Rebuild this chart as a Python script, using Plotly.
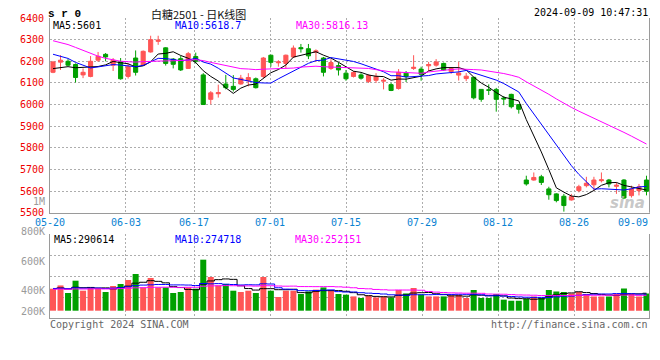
import plotly.graph_objects as go

# ---------------- data ----------------
dates = ["05-20","05-21","05-22","05-23","05-24","05-27","05-28","05-29","05-30","05-31",
         "06-03","06-04","06-05","06-06","06-07","06-11","06-12","06-13","06-14",
         "06-17","06-18","06-19","06-20","06-21","06-24","06-25","06-26","06-27","06-28",
         "07-01","07-02","07-03","07-04","07-05","07-08","07-09","07-10","07-11","07-12",
         "07-15","07-16","07-17","07-18","07-19","07-22","07-23","07-24","07-25","07-26",
         "07-29","07-30","07-31","08-01","08-02","08-05","08-06","08-07","08-08","08-09",
         "08-12","08-13","08-14","08-15","08-16","08-19","08-20","08-21","08-22","08-23",
         "08-26","08-27","08-28","08-29","08-30","09-02","09-03","09-04","09-05","09-06",
         "09-09"]

opens = [6149,6196,6200,6185,6137,6130,6205,6232,6182,6197,
         6130,6215,6182,6243,6292,6262,6210,6212,6167,6222,
         6137,6024,6050,6095,6084,6095,6110,6119,6130,6228,
         6193,6190,6220,6263,6258,6242,6215,6167,6180,6145,
         6130,6137,6107,6112,6108,6092,6074,6145,6167,6164,
         6179,6182,6190,6152,6136,6120,6126,6070,6068,6070,
         6030,6047,6000,5651,5651,5666,5610,5587,5576,5559,
         5602,5625,5629,5648,5651,5622,5651,5579,5602,5651]
highs = [6200,6228,6210,6190,6167,6224,6243,6238,6215,6215,
         6190,6250,6250,6318,6318,6265,6215,6224,6243,6240,
         6145,6062,6092,6137,6136,6137,6145,6125,6220,6230,
         6205,6231,6273,6280,6280,6255,6220,6210,6194,6160,
         6155,6145,6140,6145,6122,6100,6164,6155,6228,6175,
         6197,6210,6194,6172,6197,6146,6128,6070,6093,6077,
         6039,6050,6002,5671,5686,5675,5620,5590,5587,5587,
         5629,5666,5666,5686,5656,5640,5655,5625,5633,5671]
lows = [6145,6160,6178,6102,6122,6126,6197,6200,6155,6115,
        6120,6134,6180,6240,6276,6180,6167,6155,6165,6190,
        5998,6001,6032,6070,6060,6092,6084,6074,6122,6175,
        6175,6167,6215,6240,6210,6197,6130,6160,6134,6110,
        6125,6115,6100,6100,6070,6062,6069,6104,6160,6110,
        6155,6175,6155,6142,6111,6108,6024,6013,6044,5967,
        5997,5982,5958,5625,5648,5628,5560,5548,5505,5556,
        5594,5617,5602,5640,5617,5587,5563,5570,5580,5580]
closes = [6197,6205,6182,6125,6149,6200,6223,6220,6205,6119,
          6175,6149,6246,6300,6298,6190,6186,6160,6235,6200,
          6000,6054,6055,6078,6070,6122,6125,6078,6215,6195,
          6197,6228,6261,6258,6225,6248,6149,6194,6160,6119,
          6148,6122,6134,6130,6112,6065,6149,6130,6172,6140,
          6185,6197,6160,6166,6146,6131,6031,6024,6066,6024,
          6026,5990,5978,5633,5663,5640,5583,5556,5533,5574,
          5620,5636,5651,5652,5633,5627,5568,5610,5620,5599]
volumes = [363000,417000,292000,495000,330000,384000,363000,309000,408000,441000,
           507000,606000,384000,540000,384000,384000,292000,309000,384000,363000,
           842000,556000,417000,441000,330000,309000,330000,292000,556000,330000,
           226000,330000,330000,276000,318000,347000,384000,330000,276000,264000,
           236000,210000,252000,219000,236000,219000,342000,285000,375000,264000,
           236000,236000,236000,252000,264000,210000,342000,210000,210000,276000,
           182000,165000,165000,198000,236000,210000,342000,318000,309000,285000,
           309000,276000,236000,236000,236000,276000,365000,276000,236000,285000]

# sessions before 05-20 (only feed the moving averages at the left edge)
prior_closes = [6450,6470,6520,6580,6610,6600,6520,6420,6300,6250,
                6200,6180,6230,6250,6200,6170,6150,6160,6130,6135,
                6300,6280,6310,6275,6330,6175,6167,6150,6141]
prior_volumes = [330000,360000,340000,380000,350000,320000,360000,340000,330000,350000,
                 370000,340000,360000,330000,350000,340000,360000,330000,350000,345000,
                 380000,350000,360000,390000,370000,360000,380000,350000,365000]

x_tick_labels = ["05-20","06-03","06-17","07-01","07-15","07-29","08-12","08-26","09-09"]
price_ticks = [6400,6300,6200,6100,6000,5900,5800,5700,5600,5500]
vol_tick_labels = ["1M","800K","600K","400K","200K"]

title_text = "白糖2501 - 日K线图"
symbol_text = "s r 0"
stamp_text = "2024-09-09 10:47:31"
price_ma_texts = ["MA5:5601", "MA10:5618.7", "MA30:5816.13"]
vol_ma_texts = ["MA5:290614", "MA10:274718", "MA30:252151"]

# ---------------- helpers ----------------
# the page adds an 8px body margin, so the figure is drawn 8px smaller and
# all pixel positions below are given in screen pixels of the 660x360 view
OFF = 8
W, H = 660 - OFF, 360 - OFF
RED = "#FF5555"
GREEN = "#00A000"
GRID = "#ADADAD"
AXIS = "#9A9A9A"
MONO = "DejaVu Sans Mono"


def px_x(p):
    return (p - OFF) / W


def px_y(p):
    return 1 - (p - OFF) / H


def sma(series, n, prior):
    full = list(prior) + list(series)
    k = len(prior)
    return [sum(full[k + i - n + 1:k + i + 1]) / n for i in range(len(series))]


idx = list(range(len(dates)))
ma_colors = ["#000000", "#0000FF", "#FF00FF"]
ma_periods = [5, 10, 30]

fig = go.Figure()

fig.add_trace(go.Candlestick(
    x=idx, open=opens, high=highs, low=lows, close=closes,
    increasing=dict(line=dict(color=RED, width=1), fillcolor=RED),
    decreasing=dict(line=dict(color=GREEN, width=1), fillcolor=GREEN),
    whiskerwidth=0, xaxis="x", yaxis="y", hoverinfo="skip", showlegend=False))

for n, c in zip(ma_periods, ma_colors):
    fig.add_trace(go.Scatter(x=idx, y=sma(closes, n, prior_closes), mode="lines",
                             line=dict(color=c, width=1), xaxis="x", yaxis="y",
                             hoverinfo="skip", showlegend=False))

vol_colors = [RED if c >= o else GREEN for o, c in zip(opens, closes)]
fig.add_trace(go.Bar(x=idx, y=volumes, marker=dict(color=vol_colors, line=dict(width=0)),
                     xaxis="x2", yaxis="y2", hoverinfo="skip", showlegend=False))
for n, c in zip(ma_periods, ma_colors):
    fig.add_trace(go.Scatter(x=idx, y=sma(volumes, n, prior_volumes), mode="lines",
                             line=dict(color=c, width=1, shape="hvh"), xaxis="x2", yaxis="y2",
                             hoverinfo="skip", showlegend=False))

# vertical grid positions (chart's own grid sits slightly off the candle centres)
grid_x = [dates.index(t) * 1.0125 - 0.44 for t in x_tick_labels]

x_dom = [px_x(50), px_x(649.5)]
x_range = [-0.4, len(dates) - 0.6]
common_x = dict(domain=x_dom, range=x_range, showticklabels=False, ticks="",
                tickvals=grid_x[1:-1], showgrid=True, gridcolor=GRID, griddash="2px,2px",
                gridwidth=1, showline=True, linecolor=AXIS, linewidth=1, zeroline=False,
                fixedrange=True, automargin=False)

vol_top = 1265600
vol_bottom = -120500
fig.update_layout(
    template="none",
    width=W, height=H, margin=dict(l=0, r=0, t=0, b=0, pad=0), autosize=False,
    paper_bgcolor="white", plot_bgcolor="white",
    bargap=0.2, boxgap=0.22,
    font=dict(family=MONO, size=10, color="#000"),
    xaxis=dict(anchor="y", rangeslider=dict(visible=False), **common_x),
    xaxis2=dict(anchor="y2", **common_x),
    yaxis=dict(domain=[px_y(212.7), px_y(18)], range=[5500, 6400], tickvals=price_ticks,
               ticktext=[str(v) for v in price_ticks],
               tickfont=dict(family=MONO, size=10, color="#EE0000"),
               ticks="", ticklabelstandoff=3, showgrid=True, gridcolor=GRID, griddash="2px,2px",
               showline=True, linecolor=AXIS, zeroline=False, fixedrange=True, automargin=False),
    yaxis2=dict(domain=[px_y(318), px_y(234)], range=[vol_bottom, vol_top],
                tickvals=[vol_top, 919000, 572600, 226000], showticklabels=False, ticks="",
                showgrid=True, gridcolor=GRID, griddash="2px,2px",
                showline=True, linecolor=AXIS, zeroline=False, fixedrange=True, automargin=False),
    hovermode=False,
)

shapes = []
for ya in ["y", "y2"]:
    shapes.append(dict(type="line", xref="x domain", yref=ya + " domain", x0=1, x1=1, y0=0, y1=1,
                       line=dict(color=AXIS, width=1)))
fig.update_layout(shapes=shapes)

ann = []


def text(s, x, y, xanchor="left", color="#000", size=10, family=MONO, yanchor="middle"):
    ann.append(dict(text=s, x=px_x(x), y=px_y(y), xref="paper", yref="paper",
                    xanchor=xanchor, yanchor=yanchor, showarrow=False, borderpad=0,
                    font=dict(family=family, size=size, color=color)))


# header (kept just below the page's top margin so it is not clipped)
text("<b>" + symbol_text + "</b>", 47, 13.5, size=11, family="Liberation Mono")
text(title_text, 199, 13.5, xanchor="center", color="#111", size=11, family="Noto Sans CJK SC")
text(stamp_text, 649, 13, xanchor="right", size=10)

# MA legends
for s, xx, c in zip(price_ma_texts, [52, 174, 295], ma_colors):
    text(s, xx, 25.5, color=c)
for s, xx, c in zip(vol_ma_texts, [53, 174, 294], ma_colors):
    text(s, xx, 239, color=c)

# x date labels
for t, gx in zip(x_tick_labels, grid_x):
    pxx = 53 + gx * 7.506
    if t == x_tick_labels[-1]:
        text(t, 649, 222, xanchor="right", color="#0A82D2")
    else:
        text(t, pxx, 222, xanchor="center", color="#0A82D2")

# volume axis labels (as placed by the original)
for s, yy in zip(vol_tick_labels, [201, 231, 261, 290, 311]):
    text(s, 46, yy, xanchor="right", color="#9A9A9A")

# footer
text("Copyright 2024 SINA.COM", 49, 324, color="#666666")
text("http://finance.sina.com.cn", 649, 324, xanchor="right", color="#666666")

# watermark
text("<b><i>sina</i></b>", 646, 203, xanchor="right", color="rgba(185,185,185,0.8)", size=15,
     family="DejaVu Sans")

fig.update_layout(annotations=ann)
fig.write_html("out.html")
